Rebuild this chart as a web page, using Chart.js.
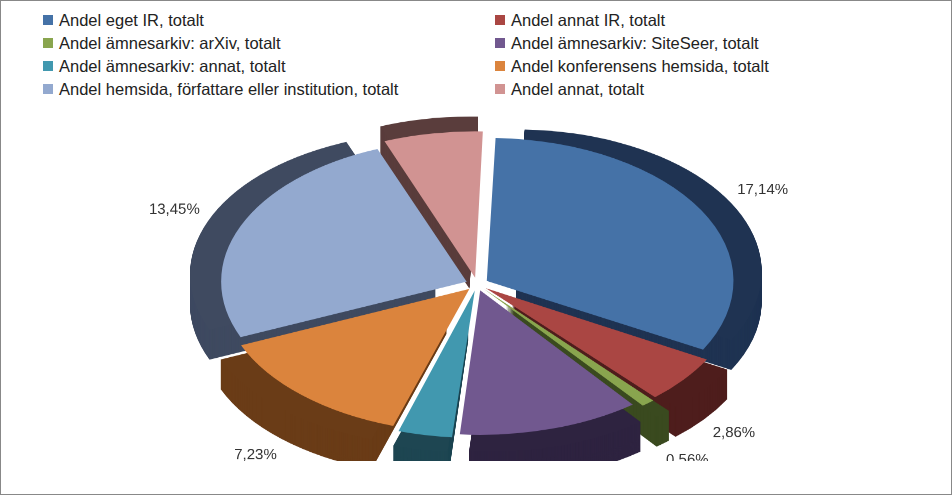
<!DOCTYPE html>
<html><head><meta charset="utf-8">
<script src="https://cdn.jsdelivr.net/npm/chart.js@4"></script>
<style>
body{margin:0;background:#fff;font-family:"Liberation Sans",Arial,sans-serif}
#wrap{position:relative;width:950px;height:493px;border:1px solid #888;overflow:hidden}
#legend{position:absolute;left:42px;top:8px;width:880px;display:grid;grid-template-columns:452px 430px;row-gap:1px;font-size:16.5px;color:#222}
.li{display:flex;align-items:center;height:22px}
.sw{width:10px;height:10px;margin-right:6px}
#box{position:absolute;left:0;top:112px;width:952px;height:600px;transform:scaleY(0.58);transform-origin:0 0}
</style></head><body>
<div id="wrap"><div id="legend"></div><div id="box"><canvas id="pie" width="952" height="600"></canvas></div></div>
<script>
const LABELS=['Andel eget IR, totalt','Andel annat IR, totalt','Andel ämnesarkiv: arXiv, totalt','Andel ämnesarkiv: SiteSeer, totalt','Andel ämnesarkiv: annat, totalt','Andel konferensens hemsida, totalt','Andel hemsida, författare eller institution, totalt','Andel annat, totalt'];
const VALUES=[17.14,2.86,0.56,6.27,1.90,7.23,13.45,3.42];
const COLORS=['#4572A7','#AA4643','#89A54E','#71588F','#4198AF','#DB843D','#93A9CF','#D19392'];
const SIDES=['#1f3352','#4e1d1c','#3a4a1f','#2e2340','#1e4652','#6a3c17','#3f4a60','#5a3d3c'];
const SY=0.58, DEPTH=52;

document.getElementById('legend').innerHTML=LABELS.map((l,i)=>`<div class="li"><div class="sw" style="background:${COLORS[i]}"></div>${l}</div>`).join('');

const depthPlugin={id:'depth',beforeDatasetsDraw(chart){
  const ctx=chart.ctx, arcs=chart.getDatasetMeta(0).data;
  ctx.save();
  for(let k=DEPTH;k>0;k-=1){
    arcs.forEach((a,i)=>{
      const mid=(a.startAngle+a.endAngle)/2, off=a.options.offset;
      const x=a.x+Math.cos(mid)*off, y=a.y+Math.sin(mid)*off+k;
      ctx.fillStyle=SIDES[i];
      ctx.beginPath();ctx.moveTo(x,y);ctx.arc(x,y,a.outerRadius,a.startAngle,a.endAngle);ctx.closePath();ctx.fill();
    });
  }
  ctx.restore();
}};
const labelPlugin={id:'lbl',afterDraw(chart){
  const ctx=chart.ctx, arcs=chart.getDatasetMeta(0).data;
  ctx.save();ctx.font='15px "Liberation Sans", Arial';ctx.fillStyle='#333';ctx.textAlign='center';ctx.textBaseline='middle';
  arcs.forEach((a,i)=>{
    const mid=(a.startAngle+a.endAngle)/2, r=a.outerRadius+a.options.offset+38;
    let x=a.x+Math.cos(mid)*r, y=a.y+Math.sin(mid)*r;
    if(Math.sin(mid)>0) y+=DEPTH;
    ctx.save();ctx.translate(x,y);ctx.scale(1,1/SY);
    ctx.fillText(VALUES[i].toFixed(2).replace('.',',')+'%',0,0);ctx.restore();
  });
  ctx.restore();
}};

new Chart(document.getElementById('pie'),{type:'pie',
  data:{labels:LABELS,datasets:[{data:VALUES,backgroundColor:COLORS,borderWidth:0,offset:45}]},
  options:{responsive:false,animation:false,rotation:2,layout:{padding:{top:27,bottom:37,left:0,right:0}},
    plugins:{legend:{display:false},tooltip:{enabled:false}}},
  plugins:[depthPlugin,labelPlugin]});
</script></body></html>
